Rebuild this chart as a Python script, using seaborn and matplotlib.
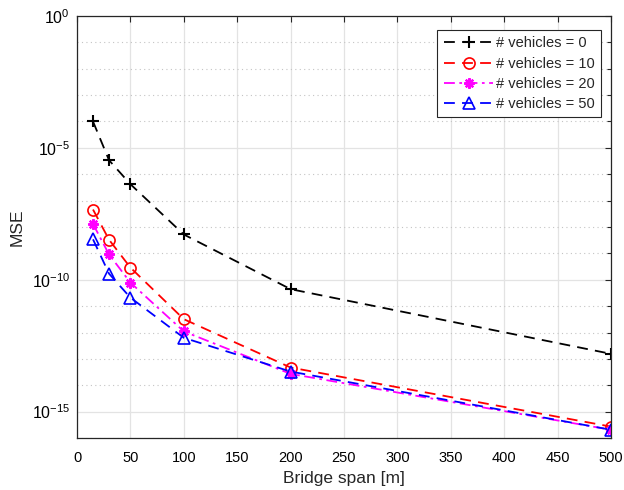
import numpy as np
import pandas as pd
import matplotlib
matplotlib.use("Agg")
import matplotlib.pyplot as plt
import matplotlib.ticker as mticker
import seaborn as sns

# Bridge spans (m) and mean-squared error for each fleet size
spans = [15, 30, 50, 100, 200, 500]
mse_v0 = [1.0e-4, 3.4e-6, 4.2e-7, 5.2e-9, 4.4e-11, 1.55e-13]
mse_v10 = [4.6e-8, 3.3e-9, 2.9e-10, 3.2e-12, 4.7e-14, 2.7e-16]
mse_v20 = [1.3e-8, 9.1e-10, 7.8e-11, 1.1e-12, 2.7e-14, 2.05e-16]
mse_v50 = [3.4e-9, 1.7e-10, 2.1e-11, 6.3e-13, 3.3e-14, 2.05e-16]
labels = ["# vehicles = 0", "# vehicles = 10", "# vehicles = 20", "# vehicles = 50"]

series = [mse_v0, mse_v10, mse_v20, mse_v50]
df = pd.concat(
    [pd.DataFrame({"span": spans, "mse": s, "fleet": lab}) for s, lab in zip(series, labels)],
    ignore_index=True,
)

sns.set_style("white")
plt.rcParams["font.family"] = ["Liberation Sans", "DejaVu Sans"]
plt.rcParams["mathtext.fontset"] = "custom"
plt.rcParams["mathtext.rm"] = "Liberation Sans"
plt.rcParams["mathtext.it"] = "Liberation Sans:italic"

styles = {
    labels[0]: dict(color="black", ls=(0, (6, 4)), marker="+", ms=9, mfc="none", mew=1.5),
    labels[1]: dict(color="red", ls=(0, (6, 4)), marker="o", ms=8, mfc="none", mew=1.2),
    labels[2]: dict(color="magenta", ls=(0, (6, 2.5, 1.5, 2.5)), marker=(8, 2, 0), ms=7.5, mfc="magenta", mew=1.6),
    labels[3]: dict(color="blue", ls=(0, (6, 4)), marker="^", ms=9, mfc="none", mew=1.2),
}

fig = plt.figure(figsize=(6.24, 4.9), dpi=100)
ax = fig.add_axes([77 / 624, 52 / 490, 534 / 624, 422 / 490])

for lab in labels:
    st = styles[lab]
    sns.lineplot(
        data=df[df["fleet"] == lab], x="span", y="mse", ax=ax,
        color=st["color"], linestyle=st["ls"], marker=st["marker"],
        markersize=st["ms"], markerfacecolor=st["mfc"],
        markeredgecolor=st["color"], markeredgewidth=st["mew"],
        linewidth=1.3, label=lab,
    )

ax.set_yscale("log")
ax.set_xlim(0, 500)
ax.set_ylim(1e-16, 1e0)
ax.xaxis.set_major_locator(mticker.MultipleLocator(50))
ax.yaxis.set_major_locator(mticker.FixedLocator([1e-15, 1e-10, 1e-5, 1e0]))
ax.yaxis.set_minor_locator(mticker.FixedLocator([10.0 ** k for k in range(-16, 0) if k % 5 != 0]))
ax.yaxis.set_major_formatter(mticker.LogFormatterSciNotation())
ax.yaxis.set_minor_formatter(mticker.NullFormatter())

ax.grid(True, which="major", color="#e3e3e3", linewidth=0.9, linestyle="-")
ax.grid(True, which="minor", axis="y", color="#c4c4c4", linewidth=0.8, linestyle=(0, (1, 3)))
ax.set_axisbelow(True)

ax.tick_params(which="both", direction="in", top=True, right=True, colors="#262626",
               labelcolor="black")
ax.tick_params(axis="x", labelsize=10.5, pad=9)
ax.tick_params(axis="y", labelsize=11.5, pad=5)
ax.tick_params(which="major", length=4, width=0.8)
ax.tick_params(which="minor", length=3, width=0.8)
for sp in ax.spines.values():
    sp.set_color("#262626")
    sp.set_linewidth(0.9)

ax.set_xlabel("Bridge span [m]", fontsize=12.5, labelpad=4.5)
ax.set_ylabel("MSE", fontsize=12.5, labelpad=5)

leg = ax.legend(loc="upper right", bbox_to_anchor=(0.981, 0.967), fontsize=10.5,
                frameon=True, fancybox=False, edgecolor="#262626", framealpha=1,
                handlelength=3.4, handletextpad=0.15, borderpad=0.45, labelspacing=0.42,
                borderaxespad=0)
leg.get_frame().set_linewidth(0.8)

fig.savefig("out.png", dpi=100)
